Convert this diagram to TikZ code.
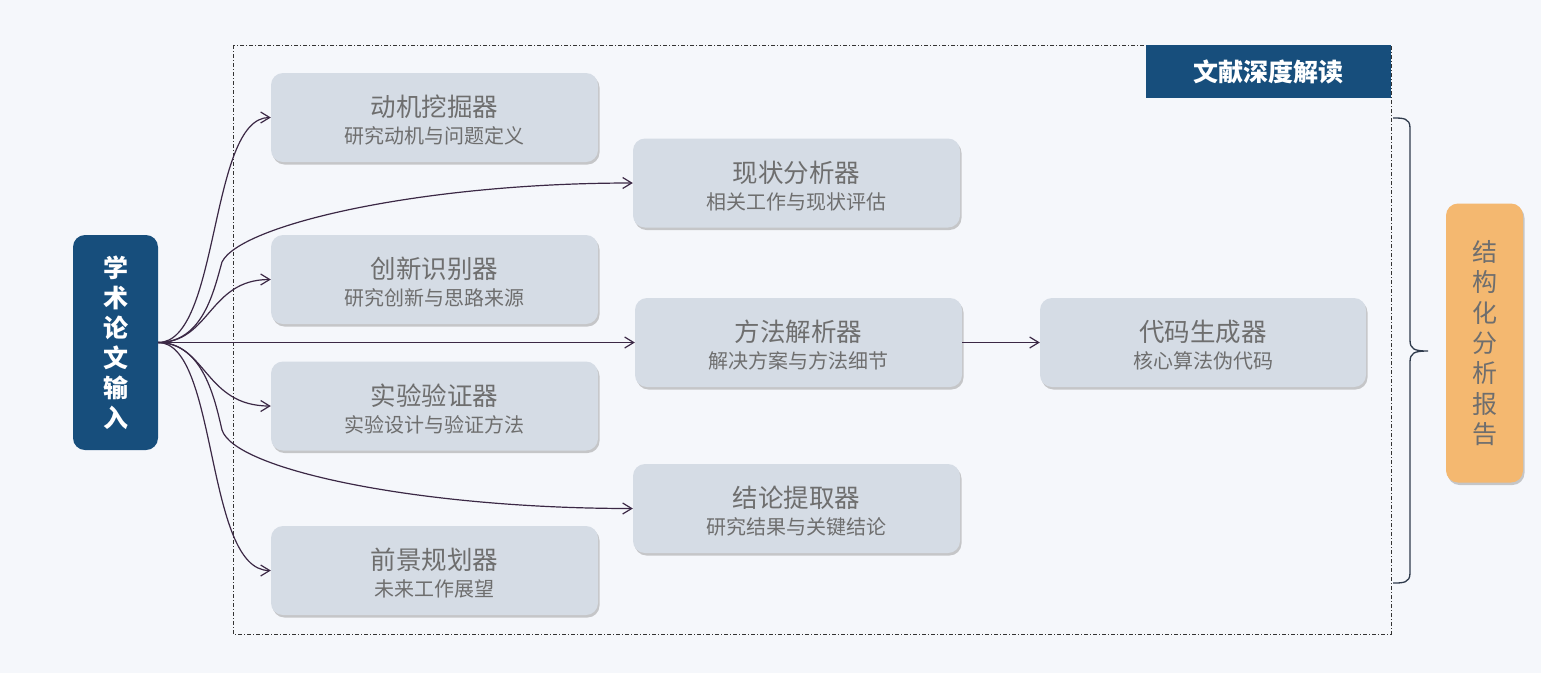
\documentclass[tikz,border=0pt]{standalone}
\usepackage{fontspec}
\setmainfont{Noto Sans CJK SC}
\usetikzlibrary{arrows.meta,shadows}
\definecolor{bgc}{HTML}{F5F7FB}
\definecolor{boxc}{HTML}{D5DCE5}
\definecolor{navy}{HTML}{174E7C}
\definecolor{orng}{HTML}{F4B870}
\definecolor{txtc}{HTML}{6E6E6E}
\definecolor{linec}{HTML}{3B2845}
\definecolor{bracec}{HTML}{2F3B4C}
\tikzset{
  modbox/.style={fill=boxc, rounded corners=12pt, minimum width=327pt, minimum height=89pt,
    inner sep=0pt, align=center, text=txtc,
    font=\fontsize{20}{27}\selectfont,
    drop shadow={shadow xshift=1.5pt, shadow yshift=-2.5pt, fill=black!45, opacity=0.45}},
  conn/.style={draw=linec, line width=1.2pt, -{Straight Barb[length=9pt,width=11pt,line width=1.2pt]}}
}
\newcommand{\boxtext}[2]{\rule{0pt}{27pt}{\fontsize{25.5}{27}\selectfont #1}\\#2}
\begin{document}
\begin{tikzpicture}[x=1pt,y=-1pt]
\fill[bgc] (0,0) rectangle (1541,673);
\useasboundingbox (0,0) rectangle (1541,673);
% frame
\draw[black!80, line width=0.8pt, dash pattern=on 4pt off 2pt on 1pt off 2pt] (233,45) rectangle (1391,634);
\node[fill=navy, minimum width=245pt, minimum height=53pt, inner sep=0pt, text=white,
  font=\fontsize{25}{27}\selectfont\bfseries] (title) at (1268.5,71.5) {文献深度解读};
% input
\node[fill=navy, rounded corners=12pt, minimum width=85pt, minimum height=215pt, inner sep=0pt,
  text=white, align=center, font=\fontsize{25}{30}\selectfont\bfseries] (input) at (115.5,342.5)
  {学\\术\\论\\文\\输\\入};
% modules
\node[modbox] (motiv) at (434.5,117.5) {\boxtext{动机挖掘器}{研究动机与问题定义}};
\node[modbox] (status) at (796.5,183) {\boxtext{现状分析器}{相关工作与现状评估}};
\node[modbox] (innov) at (434.5,279.5) {\boxtext{创新识别器}{研究创新与思路来源}};
\node[modbox] (method) at (798.5,342.5) {\boxtext{方法解析器}{解决方案与方法细节}};
\node[modbox] (exper) at (434.5,406) {\boxtext{实验验证器}{实验设计与验证方法}};
\node[modbox] (concl) at (796.5,508.5) {\boxtext{结论提取器}{研究结果与关键结论}};
\node[modbox] (future) at (434.5,570.5) {\boxtext{前景规划器}{未来工作展望}};
\node[modbox, minimum width=326pt] (code) at (1203,342.5) {\boxtext{代码生成器}{核心算法伪代码}};
% report
\node[fill=orng, rounded corners=12pt, minimum width=77pt, minimum height=279pt, inner sep=0pt,
  text=txtc, align=center, font=\fontsize{25}{30.3}\selectfont,
  drop shadow={shadow xshift=1.5pt, shadow yshift=-2.5pt, fill=black!45, opacity=0.45}] (report) at (1484.5,343)
  {结\\构\\化\\分\\析\\报\\告};
% brace
\draw[bracec, line width=1.3pt] (1393,118) .. controls (1403,118) and (1410,118) .. (1410,128)
  -- (1410,340) .. controls (1410,349) and (1414,351) .. (1428,351)
  .. controls (1414,351) and (1410,353) .. (1410,362)
  -- (1410,573) .. controls (1410,583) and (1403,583) .. (1393,583);
% connectors
\coordinate (jS) at (222,262);
\coordinate (jC) at (222,430);
\draw[conn] (input.east) .. controls +(62,0) and +(-62,0) .. (motiv.west);
\draw[conn] (input.east) .. controls +(45,0) and +(-8,28) .. (jS)
  .. controls +(18,-37) and +(-213,0) .. (status.west);
\draw[conn] (input.east) .. controls +(52,0) and +(-62,0) .. (innov.west);
\draw[conn] (input.east) -- (method.west);
\draw[conn] (input.east) .. controls +(48,0) and +(-66,0) .. (exper.west);
\draw[conn] (input.east) .. controls +(45,0) and +(-7,-30) .. (jC)
  .. controls +(13,40) and +(-213,0) .. (concl.west);
\draw[conn] (input.east) .. controls +(60,0) and +(-66,0) .. (future.west);
\draw[conn] (method.east) -- (code.west);
\end{tikzpicture}
\end{document}
